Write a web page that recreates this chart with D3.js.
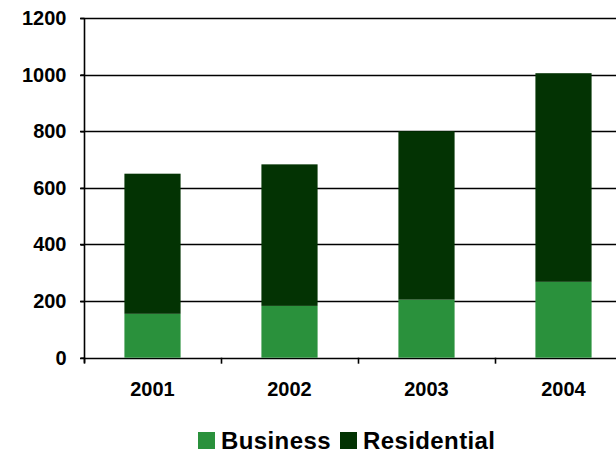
<!DOCTYPE html>
<html>
<head>
<meta charset="utf-8">
<script src="https://cdn.jsdelivr.net/npm/d3@7"></script>
<style>
  body { margin: 0; background: #fff; }
  svg text { font-family: "Liberation Sans", Arial, sans-serif; font-weight: bold; fill: #000; }
</style>
</head>
<body>
<div id="vis"></div>
<script>
const years = ["2001", "2002", "2003", "2004"];
const business = [155, 183, 205, 268];
const residential = [495, 500, 595, 737];
const seriesNames = ["Business", "Residential"];
const yTicks = [0, 200, 400, 600, 800, 1000, 1200];

const colors = { Business: "#2a913c", Residential: "#033303" };

const W = 616, H = 453;
const margin = { top: 18, left: 84, bottom: 95 };
const plotRight = 632;

const svg = d3.select("#vis").append("svg")
    .attr("width", W)
    .attr("height", H);

const rows = years.map((y, i) => ({ year: y, Business: business[i], Residential: residential[i] }));
const stacked = d3.stack().keys(seriesNames)(rows);

const x = d3.scaleBand()
    .domain(years)
    .range([margin.left, plotRight])
    .paddingInner(0.59)
    .paddingOuter(0.295);

const y = d3.scaleLinear()
    .domain([0, 1200])
    .range([H - margin.bottom - 0.3, margin.top]);

// gridlines
svg.append("g")
    .selectAll("line")
    .data(yTicks)
    .join("line")
    .attr("x1", margin.left - 4)
    .attr("x2", W)
    .attr("y1", d => Math.round(y(d)) + 0.5)
    .attr("y2", d => Math.round(y(d)) + 0.5)
    .attr("stroke", "#000")
    .attr("stroke-width", 1.6);

// bars
svg.append("g")
    .selectAll("g")
    .data(stacked)
    .join("g")
    .attr("fill", d => colors[d.key])
    .selectAll("rect")
    .data(d => d)
    .join("rect")
    .attr("x", d => x(d.data.year))
    .attr("width", x.bandwidth())
    .attr("y", d => y(d[1]))
    .attr("height", d => y(d[0]) - y(d[1]));

// y axis
const yAxis = d3.axisLeft(y).tickValues(yTicks).tickFormat(d3.format("d")).tickSize(4).tickPadding(14);
svg.append("g")
    .attr("transform", `translate(${margin.left + 0.5},0)`)
    .call(yAxis)
    .call(g => g.select(".domain").remove())
    .call(g => g.selectAll("line").attr("stroke-width", 1.6))
    .call(g => g.selectAll("text").style("font-size", "20px"));

svg.append("line")
    .attr("x1", margin.left + 0.5).attr("x2", margin.left + 0.5)
    .attr("y1", y(1200)).attr("y2", y(0) + 5)
    .attr("stroke", "#000").attr("stroke-width", 1.6);

// x axis
const xTickPos = d3.range(years.length + 1).map(i => margin.left + i * x.step());
svg.append("g")
    .selectAll("line")
    .data(xTickPos)
    .join("line")
    .attr("x1", d => d + 0.5).attr("x2", d => d + 0.5)
    .attr("y1", y(0)).attr("y2", y(0) + 6)
    .attr("stroke", "#000").attr("stroke-width", 1.6);

svg.append("g")
    .selectAll("text")
    .data(years)
    .join("text")
    .attr("x", d => x(d) + x.bandwidth() / 2)
    .attr("y", 396)
    .attr("text-anchor", "middle")
    .style("font-size", "20px")
    .text(d => d);

// legend
const legendItems = [
    { name: "Business", x: 198 },
    { name: "Residential", x: 340 }
];
const legend = svg.append("g")
    .selectAll("g")
    .data(legendItems)
    .join("g")
    .attr("transform", d => `translate(${d.x},432)`);

legend.append("rect")
    .attr("width", 17)
    .attr("height", 17)
    .attr("fill", d => colors[d.name]);

legend.append("text")
    .attr("x", 23)
    .attr("y", 17)
    .style("font-size", "24px")
    .style("letter-spacing", "0.4px")
    .text(d => d.name);
</script>
</body>
</html>
